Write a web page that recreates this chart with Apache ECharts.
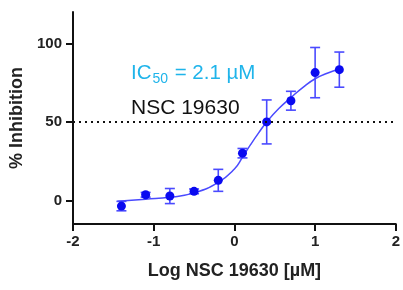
<!DOCTYPE html>
<html>
<head>
<meta charset="utf-8">
<script src="https://cdn.jsdelivr.net/npm/echarts@6/dist/echarts.min.js"></script>
<style>
  html, body { margin: 0; padding: 0; background: #fff; }
  #main { width: 403px; height: 290px; }
</style>
</head>
<body>
<div id="main"></div>
<script>
// measured points (log conc, mean % inhibition, error)
var logConc = [-1.4, -1.1, -0.8, -0.5, -0.2, 0.1, 0.4, 0.7, 1.0, 1.3]
var inhibition = [-3.6, 3.6, 2.8, 5.8, 12.8, 30.1, 50, 63.5, 81.4, 83.3]
var errBar = [3, 1.5, 4.8, 1.5, 7, 3, 14, 6, 16, 11.2]

// fitted curve
var curveX = [-1.45, -1.1, -0.8, -0.5, -0.2, 0.0, 0.1, 0.2, 0.3, 0.4, 0.55, 0.7, 0.85, 1.0, 1.15, 1.3]
var curveY = [-0.5, 0.8, 2.0, 4.8, 11.5, 20, 27.5, 35.5, 43, 50, 58.5, 65.5, 72, 77.5, 81, 83.5]

var xTicks = [-2, -1, 0, 1, 2]
var yTicks = [0, 50, 100]

var font = 'Arial, "Liberation Sans", sans-serif'
var dotBlue = '#0a0af0'
var lineBlue = '#4a4aff'

var myChart = echarts.init(document.getElementById('main'))

var points = logConc.map(function (x, i) { return [x, inhibition[i]] })
var bars = logConc.map(function (x, i) { return [x, inhibition[i] - errBar[i], inhibition[i] + errBar[i]] })
var curve = curveX.map(function (x, i) { return [x, curveY[i]] })

var option = {
  animation: false,
  grid: { left: 73, right: 4, top: 12, bottom: 66 },
  xAxis: {
    type: 'value',
    min: xTicks[0],
    max: xTicks[xTicks.length - 1],
    interval: 1,
    name: 'Log NSC 19630 [µM]',
    nameLocation: 'middle',
    nameGap: 38,
    nameTextStyle: { color: '#222', fontSize: 18, fontWeight: 'bold', fontFamily: font },
    axisLine: { onZero: false, lineStyle: { color: '#111', width: 2 } },
    axisTick: { length: 7, lineStyle: { color: '#111', width: 2 } },
    axisLabel: { margin: 10, color: '#222', fontSize: 15, fontWeight: 'bold', fontFamily: font },
    splitLine: { show: false }
  },
  yAxis: {
    type: 'value',
    min: -15,
    max: 120,
    name: '% Inhibition',
    nameLocation: 'middle',
    nameGap: 44,
    nameTextStyle: { color: '#222', fontSize: 18, fontWeight: 'bold', fontFamily: font },
    axisLine: { onZero: false, lineStyle: { color: '#111', width: 2 } },
    axisTick: { length: 7, customValues: yTicks, lineStyle: { color: '#111', width: 2 } },
    axisLabel: { margin: 11, customValues: yTicks, color: '#222', fontSize: 15, fontWeight: 'bold', fontFamily: font },
    splitLine: { show: false }
  },
  graphic: [
    { type: 'text', left: 131, top: 63, style: { text: 'IC', fill: '#1fb4ea', fontSize: 20.5, fontFamily: font } },
    { type: 'text', left: 152.5, top: 72, style: { text: '50', fill: '#1fb4ea', fontSize: 14, fontFamily: font } },
    { type: 'text', left: 169, top: 63, style: { text: ' = 2.1 µM', fill: '#1fb4ea', fontSize: 20.5, fontFamily: font } },
    { type: 'text', left: 131, top: 98, style: { text: 'NSC 19630', fill: '#111', fontSize: 21, fontFamily: font } }
  ],
  series: [
    {
      name: 'fit',
      type: 'line',
      data: curve,
      smooth: true,
      symbol: 'none',
      lineStyle: { color: lineBlue, width: 1.5 },
      markLine: {
        silent: true,
        symbol: 'none',
        label: { show: false },
        lineStyle: { color: '#111', type: [2, 4], width: 2 },
        data: [{ yAxis: 50 }]
      },
      z: 2
    },
    {
      name: 'err',
      type: 'custom',
      data: bars,
      renderItem: function (params, api) {
        var x = api.value(0)
        var lo = api.coord([x, api.value(1)])
        var hi = api.coord([x, api.value(2)])
        var w = 5
        var st = { stroke: lineBlue, lineWidth: 1.6 }
        return {
          type: 'group',
          children: [
            { type: 'line', shape: { x1: lo[0], y1: lo[1], x2: hi[0], y2: hi[1] }, style: st },
            { type: 'line', shape: { x1: lo[0] - w, y1: lo[1], x2: lo[0] + w, y2: lo[1] }, style: st },
            { type: 'line', shape: { x1: hi[0] - w, y1: hi[1], x2: hi[0] + w, y2: hi[1] }, style: st }
          ]
        }
      },
      z: 3
    },
    {
      name: 'mean',
      type: 'scatter',
      data: points,
      symbolSize: 9,
      itemStyle: { color: dotBlue, opacity: 1 },
      z: 4
    }
  ]
}

myChart.setOption(option)
</script>
</body>
</html>
